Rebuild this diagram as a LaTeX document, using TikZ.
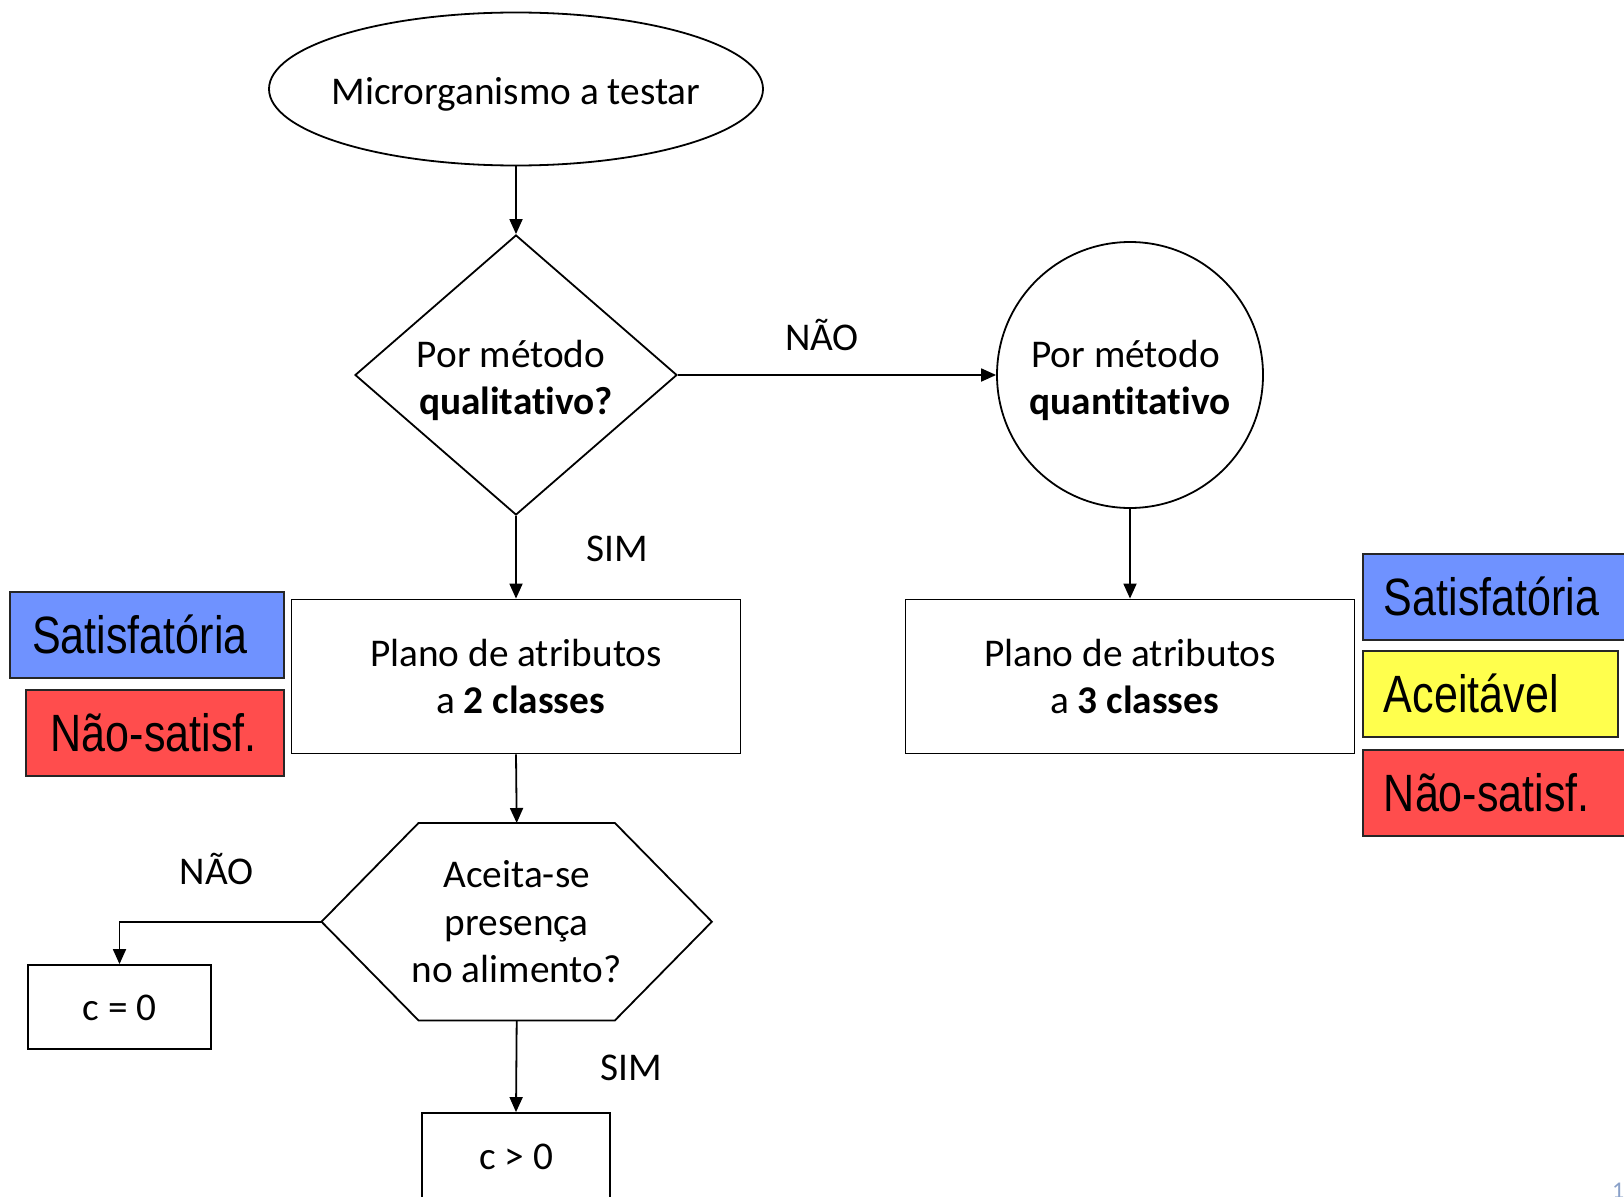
\documentclass[tikz,border=0pt]{standalone}
\usepackage{fontspec}
\setmainfont{Carlito}[Ligatures=CommonOff]
\newfontfamily\narrowfont[FakeStretch=0.82]{Liberation Sans}
\usetikzlibrary{shapes.geometric,arrows.meta}
\definecolor{cblue}{RGB}{111,146,255}
\definecolor{cred}{RGB}{255,77,77}
\definecolor{cyel}{RGB}{255,255,77}
\definecolor{pgnum}{RGB}{137,160,200}
\begin{document}
\begin{tikzpicture}[x=1pt,y=-1pt,
  txt/.style={font=\fontsize{39.3pt}{47.2pt}\selectfont},
  shp/.style={draw, line width=1.8pt, inner sep=0pt, txt, align=center},
  arr/.style={-{Triangle[length=15pt,width=13pt]}, line width=1.8pt},
  cbox/.style={draw=black!85, line width=1.8pt, font=\narrowfont\fontsize{52.5pt}{60pt}\selectfont, inner ysep=0pt, minimum height=86pt, text height=37.6pt, text depth=0pt, anchor=north west, align=left},
  lbl/.style={txt, anchor=base, inner sep=0pt}
]
\useasboundingbox (0,0) rectangle (1624,1196);
\clip (0,0) rectangle (1624,1196);

% shapes
\node[shp, ellipse, minimum width=494pt, minimum height=153pt] (ell) at (516,89) {};
\node[lbl] (elltxt) at (516,105) {Microrganismo a testar};
\node[shp, diamond, aspect=1.15, minimum width=322pt, minimum height=280pt] (dia) at (516,375) {\rule{0pt}{38pt}Por método\hspace*{10pt}\\\textbf{qualitativo?}};
\node[shp, circle, minimum size=266pt] (circ) at (1130,375) {\rule{0pt}{38pt}Por método\hspace*{9pt}\\\textbf{quantitativo}};
\node[shp, minimum width=449pt, minimum height=154pt] (p2) at (516,676.5) {Plano de atributos\\\hspace*{9pt}a \textbf{2 classes}};
\node[shp, minimum width=449pt, minimum height=154pt] (p3) at (1130,676.5) {Plano de atributos\\\hspace*{9pt}a \textbf{3 classes}};
\node[txt, minimum width=390pt, minimum height=197pt, inner sep=0pt, align=center] (hex) at (516.7,921.7) {Aceita-se\\presença\\no alimento?};
\draw[line width=1.8pt] (hex.west) -- ([xshift=97pt]hex.north west) -- ([xshift=-97pt]hex.north east) -- (hex.east) -- ([xshift=-97pt]hex.south east) -- ([xshift=97pt]hex.south west) -- cycle;
\node[shp, minimum width=183pt, minimum height=84pt, text height=26pt, text depth=0pt] (c0) at (119.5,1007) {c = 0};
\node[shp, minimum width=188pt, minimum height=86pt, text height=26pt, text depth=0pt] (cg) at (516,1156) {c > 0};

% connectors
\draw[arr] (ell.south) -- (dia.north);
\draw[arr] (dia.east) -- (circ.west);
\draw[arr] (dia.south) -- (p2.north);
\draw[arr] (circ.south) -- (p3.north);
\draw[arr] (p2.south) -- (hex.north);
\draw[arr] (hex.west) -| (c0.north);
\draw[arr] (hex.south) -- (cg.north);

% labels
\node[lbl] (no1) at (822,350) {NÃO};
\node[lbl] (yes1) at (617.5,561.7) {SIM};
\node[lbl] (no2) at (216.7,884) {NÃO};
\node[lbl] (yes2) at (631,1080) {SIM};

% colour boxes
\node[cbox, fill=cblue, text width=230pt, inner xsep=22pt] (lb) at (9.3,591) {Satisfatória};
\node[cbox, fill=cred, text width=208pt, inner xsep=25pt] (lr) at (25,689) {Não-satisf.};
\node[cbox, fill=cblue, text width=258pt, inner xsep=21pt] (rb) at (1362,553) {Satisfatória};
\node[cbox, fill=cyel, text width=213pt, inner xsep=21pt] (ry) at (1362,650) {Aceitável};
\node[cbox, fill=cred, text width=258pt, inner xsep=21pt] (rr) at (1362,749) {Não-satisf.};

% page number
\node[anchor=base west, inner sep=0pt, text=pgnum, font=\fontsize{24pt}{28pt}\selectfont] (pg) at (1612,1198) {1};
\end{tikzpicture}
\end{document}
